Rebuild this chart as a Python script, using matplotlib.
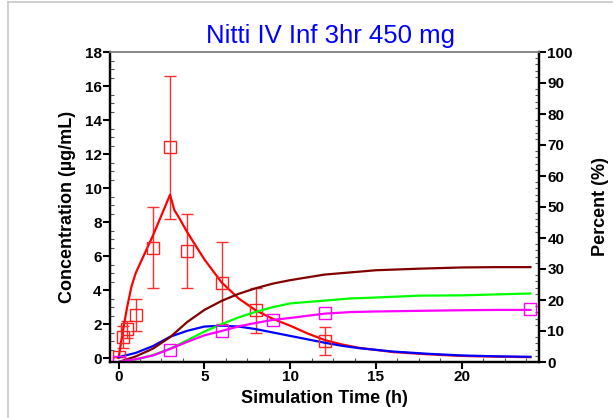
import matplotlib.pyplot as plt
from matplotlib.ticker import MultipleLocator
from matplotlib.lines import Line2D

# observed concentration (ug/mL)
obs_t = [0, 0.25, 0.5, 1, 2, 3, 4, 6, 8, 12]
obs_c = [0.05, 1.24, 1.7, 2.55, 6.5, 12.4, 6.3, 4.4, 2.8, 1.0]
obs_err = [0.0, 0.65, 0.5, 0.95, 2.4, 4.2, 2.2, 2.4, 1.3, 0.85]

# simulated concentration (ug/mL)
sim_t = [0, 0.25, 0.5, 0.75, 1, 1.5, 2, 2.5, 3, 3.25, 3.5, 4, 5, 6, 7, 8, 9, 10,
         11, 12, 13, 14, 16, 18, 20, 22, 24]
sim_c = [0, 1.6, 3.0, 4.2, 5.0, 6.1, 7.2, 8.4, 9.6, 8.7, 8.3, 7.4, 5.8, 4.45, 3.5,
         2.8, 2.3, 1.9, 1.45, 1.06, 0.8, 0.6, 0.35, 0.22, 0.12, 0.08, 0.05]

# blue curve (ug/mL)
blue_t = [0, 1, 2, 3, 4, 5, 6, 7, 8, 9, 10, 11, 12, 13, 14, 16, 18, 20, 22, 24]
blue_c = [0.05, 0.3, 0.7, 1.25, 1.6, 1.85, 1.9, 1.85, 1.7, 1.5, 1.3, 1.1, 0.9,
          0.72, 0.58, 0.38, 0.25, 0.15, 0.1, 0.07]

# percent curves
pct_t = [0, 1, 2, 3, 4, 5, 6, 7, 8, 9, 10, 12, 13.5, 15, 17.5, 20, 22, 24]
brown_p = [0, 1.8, 4.3, 8.0, 12.9, 16.8, 19.7, 22.0, 23.8, 25.3, 26.4, 28.2, 28.9,
           29.6, 30.1, 30.5, 30.6, 30.6]
green_p = [0, 0.8, 2.2, 4.3, 7.0, 9.8, 12.2, 14.4, 16.2, 17.7, 18.9, 19.8, 20.5,
           20.8, 21.4, 21.5, 21.8, 22.1]
magenta_p = [0, 0.9, 2.1, 4.2, 6.5, 8.6, 10.0, 11.5, 12.6, 13.6, 14.2, 15.6, 16.1,
             16.3, 16.5, 16.7, 16.8, 16.8]
mag_obs_t = [0, 3, 6, 9, 12, 24]
mag_obs_p = [0, 3.9, 10.0, 13.6, 15.9, 17.1]

plt.rcParams['font.family'] = ['Liberation Sans', 'DejaVu Sans']

fig = plt.figure(figsize=(6.13, 4.18), dpi=100)
ax = fig.add_axes([110 / 613, 1 - 362 / 418, 429 / 613, 310 / 418])
ax2 = ax.twinx()

ax.errorbar(obs_t, obs_c, yerr=obs_err, fmt='none', ecolor='#ff3030',
            elinewidth=1, capsize=4, capthick=1, zorder=3)
ax.plot(obs_t, obs_c, 's', mfc='none', mec='#ff2020', ms=8.5, mew=1, zorder=4)
ax.plot(sim_t, sim_c, color='red', lw=1.6, zorder=3)
ax.plot(blue_t, blue_c, color='blue', lw=1.6, zorder=3)

ax2.plot(pct_t, brown_p, color='#800000', lw=1.6)
ax2.plot(pct_t, green_p, color='#00ff00', lw=1.6)
ax2.plot(pct_t, magenta_p, color='#ff00ff', lw=1.6)
ax2.plot(mag_obs_t, mag_obs_p, 's', mfc='none', mec='#ff00ff', ms=8.5, mew=1)

ax.set_xlim(-0.5, 24.5)
ax.set_ylim(-0.235, 18)
ax2.set_ylim(0, 100)

ax.xaxis.set_major_locator(MultipleLocator(5))
ax.xaxis.set_minor_locator(MultipleLocator(1.25))
ax.yaxis.set_major_locator(MultipleLocator(2))
ax.yaxis.set_minor_locator(MultipleLocator(0.5))
ax2.yaxis.set_major_locator(MultipleLocator(10))
ax2.yaxis.set_minor_locator(MultipleLocator(2))

for a in (ax, ax2):
    a.tick_params(which='major', direction='out', length=5, width=1.5,
                  labelsize=11, pad=1)
    a.tick_params(which='minor', direction='in', length=3, width=0.8,
                  color='#555555')
    for lab in a.get_xticklabels() + a.get_yticklabels():
        lab.set_fontweight('bold')
    for s in ('left', 'right', 'bottom'):
        a.spines[s].set_linewidth(1.6)
    a.spines['top'].set_color('#888888')
    a.spines['top'].set_linewidth(1.2)

ax.set_xlabel('Simulation Time (h)', fontsize=13, fontweight='bold', labelpad=4)
ax.set_ylabel('Concentration (µg/mL)', fontsize=13, fontweight='bold', labelpad=6)
ax2.set_ylabel('Percent (%)', fontsize=13, fontweight='bold', labelpad=14)
fig.text(331 / 613, 1 - 43 / 418, 'Nitti IV Inf 3hr 450 mg', color='blue',
         fontsize=18.5, ha='center', va='baseline')

# outer frame lines
fig.add_artist(Line2D([8 / 613, 8 / 613], [0, 1 - 2 / 418], color='#c8c8c8', lw=1.2))
fig.add_artist(Line2D([8 / 613, 1], [1 - 2 / 418, 1 - 2 / 418], color='#c8c8c8', lw=1.2))

plt.savefig('out.png', dpi=100)
plt.close()
